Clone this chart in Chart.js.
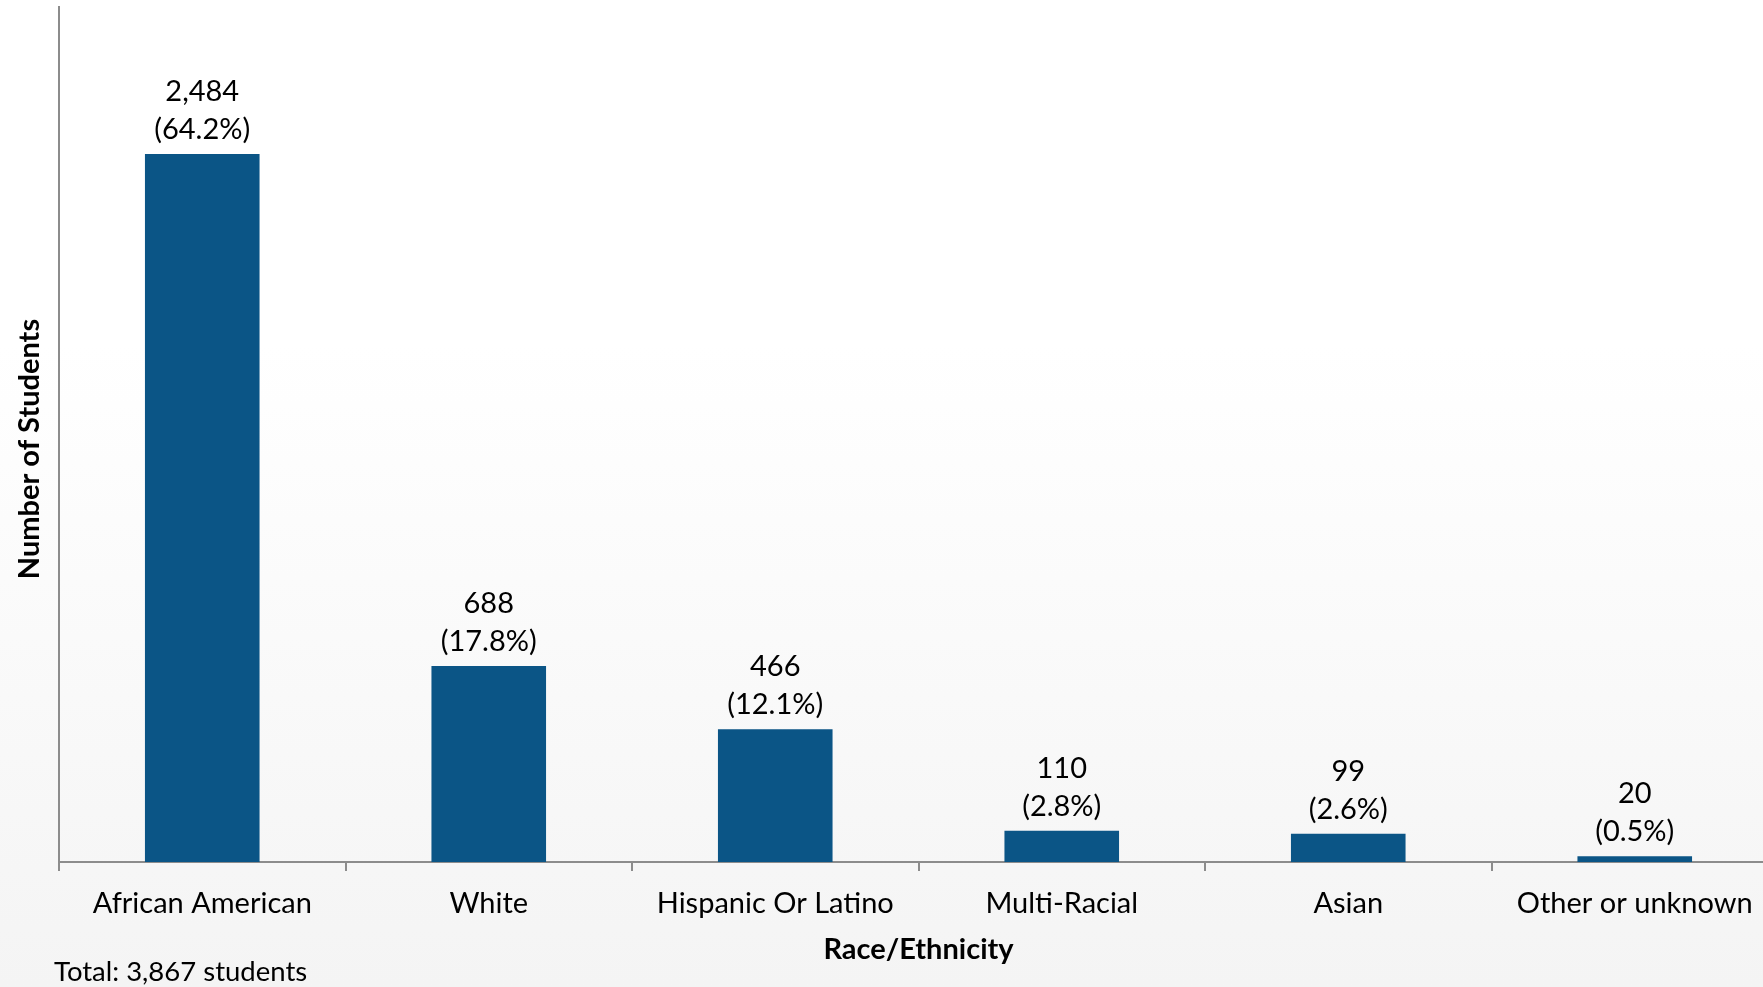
<!DOCTYPE html>
<html>
<head>
<meta charset="utf-8">
<script src="https://cdn.jsdelivr.net/npm/chart.js@4"></script>
<style>
  html, body { margin: 0; padding: 0; width: 1763px; height: 987px; overflow: hidden; }
  body { background: linear-gradient(to bottom, #ffffff 0%, #ffffff 35%, #f4f4f4 100%); }
  #wrap { position: absolute; left: 0; top: 0; width: 1778px; height: 987px; }
</style>
</head>
<body>
<div id="wrap"><canvas id="c"></canvas></div>
<script>
const categories = ["African American", "White", "Hispanic Or Latino", "Multi-Racial", "Asian", "Other or unknown"];
const studentCounts = [2484, 688, 466, 110, 99, 20];
const percentLabels = ["64.2%", "17.8%", "12.1%", "2.8%", "2.6%", "0.5%"];
const yAxisTitle = "Number of Students";
const xAxisTitle = "Race/Ethnicity";
const footnote = "Total: 3,867 students";

const FONT = "Lato, 'Open Sans', sans-serif";
const FS = 29;
const AXIS_COLOR = "#8c8c8c";

const textPlugin = {
  id: "texts",
  afterDatasetsDraw(chart) {
    const ctx = chart.ctx;
    const meta = chart.getDatasetMeta(0);
    ctx.save();
    ctx.fillStyle = "#000";
    ctx.font = FS + "px " + FONT;
    ctx.textAlign = "center";
    ctx.textBaseline = "alphabetic";
    meta.data.forEach((bar, i) => {
      const x = bar.x;
      const top = bar.y;
      ctx.fillText("(" + percentLabels[i] + ")", x, top - 15);
      ctx.fillText(studentCounts[i].toLocaleString("en-US"), x, top - 53);
    });
    ctx.restore();
  },
  afterDraw(chart) {
    const ctx = chart.ctx;
    const area = chart.chartArea;
    ctx.save();
    ctx.fillStyle = "#000";
    ctx.font = "bold " + FS + "px " + FONT;
    ctx.textAlign = "center";
    ctx.textBaseline = "middle";
    ctx.fillText(xAxisTitle, (area.left + area.right) / 2, 950);
    ctx.save();
    ctx.translate(30, 449);
    ctx.rotate(-Math.PI / 2);
    ctx.fillText(yAxisTitle, 0, 0);
    ctx.restore();
    ctx.font = "27.5px " + FONT;
    ctx.textAlign = "left";
    ctx.fillText(footnote, 54, 972);
    ctx.restore();
  }
};

new Chart(document.getElementById("c"), {
  type: "bar",
  data: {
    labels: categories,
    datasets: [{
      data: studentCounts,
      backgroundColor: "#0b5586",
      borderWidth: 0,
      barPercentage: 0.4,
      categoryPercentage: 1.0
    }]
  },
  options: {
    responsive: true,
    maintainAspectRatio: false,
    animation: false,
    layout: { padding: { left: 59, top: 7, right: 0, bottom: 0 } },
    plugins: { legend: { display: false }, tooltip: { enabled: false } },
    scales: {
      x: {
        offset: true,
        grid: { display: true, drawOnChartArea: false, drawTicks: true, tickLength: 9, color: AXIS_COLOR, lineWidth: 2, offset: true },
        border: { display: true, color: AXIS_COLOR, width: 2 },
        ticks: { color: "#000", font: { family: FONT, size: FS }, padding: 15, maxRotation: 0, autoSkip: false },
        afterFit(scale) { scale.height = 125; }
      },
      y: {
        min: 0, max: 3000,
        grid: { display: false, drawTicks: false },
        border: { display: true, color: AXIS_COLOR, width: 2 },
        ticks: { display: false },
        afterFit(scale) { scale.width = 0; }
      }
    }
  },
  plugins: [textPlugin]
});
</script>
</body>
</html>
